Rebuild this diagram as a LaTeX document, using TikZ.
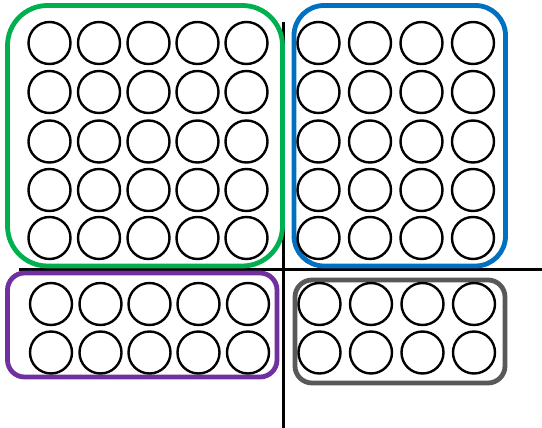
\documentclass[tikz,border=0pt]{standalone}
\usetikzlibrary{positioning}
\definecolor{grp1}{HTML}{00B050}
\definecolor{grp2}{HTML}{0070C0}
\definecolor{grp3}{HTML}{7030A0}
\definecolor{grp4}{HTML}{595959}
\tikzset{
  ball/.style={circle, draw=black, line width=2.4pt, minimum size=42pt, inner sep=0pt},
  groupbox/.style={line width=4.8pt},
  axis/.style={draw=black, line width=3pt}
}
\begin{document}
\begin{tikzpicture}[x=1pt,y=-1pt]
\useasboundingbox (0,0) rectangle (542,428);
% axes
\coordinate (vtop) at (283.5,22);
\coordinate (vbot) at (283.5,428);
\coordinate (hl) at (19,269.5);
\coordinate (hr) at (542,269.5);
\draw[axis] (vtop) -- (vbot);
\draw[axis] (hl) -- (hr);
% group boxes
\draw[groupbox, draw=grp1, rounded corners=40pt] (7.5,5.5) rectangle (282.5,266);
\draw[groupbox, draw=grp2, rounded corners=30pt] (294,5.5) rectangle (505.5,266);
\draw[groupbox, draw=grp3, rounded corners=17pt] (7.5,273) rectangle (277,377);
\draw[groupbox, draw=grp4, rounded corners=17pt] (295,280) rectangle (505,383);
% green group: 5x5
\foreach \c/\x in {1/49.5,2/99,3/148.5,4/197.5,5/246.5}
  \foreach \r/\y in {1/43,2/92,3/141.5,4/190,5/238}
    \node[ball] (g\r\c) at (\x,\y) {};
% blue group: 4x5
\foreach \c/\x in {1/318.5,2/370,3/421.5,4/473}
  \foreach \r/\y in {1/43,2/92,3/141.5,4/190,5/238}
    \node[ball] (b\r\c) at (\x,\y) {};
% purple group: 5x2
\foreach \c/\x in {1/51,2/100.5,3/149.5,4/198.5,5/248}
  \foreach \r/\y in {1/304,2/352.5}
    \node[ball] (p\r\c) at (\x,\y) {};
% gray group: 4x2
\foreach \c/\x in {1/319.5,2/371,3/422.5,4/474}
  \foreach \r/\y in {1/304,2/352.5}
    \node[ball] (k\r\c) at (\x,\y) {};
\end{tikzpicture}
\end{document}
